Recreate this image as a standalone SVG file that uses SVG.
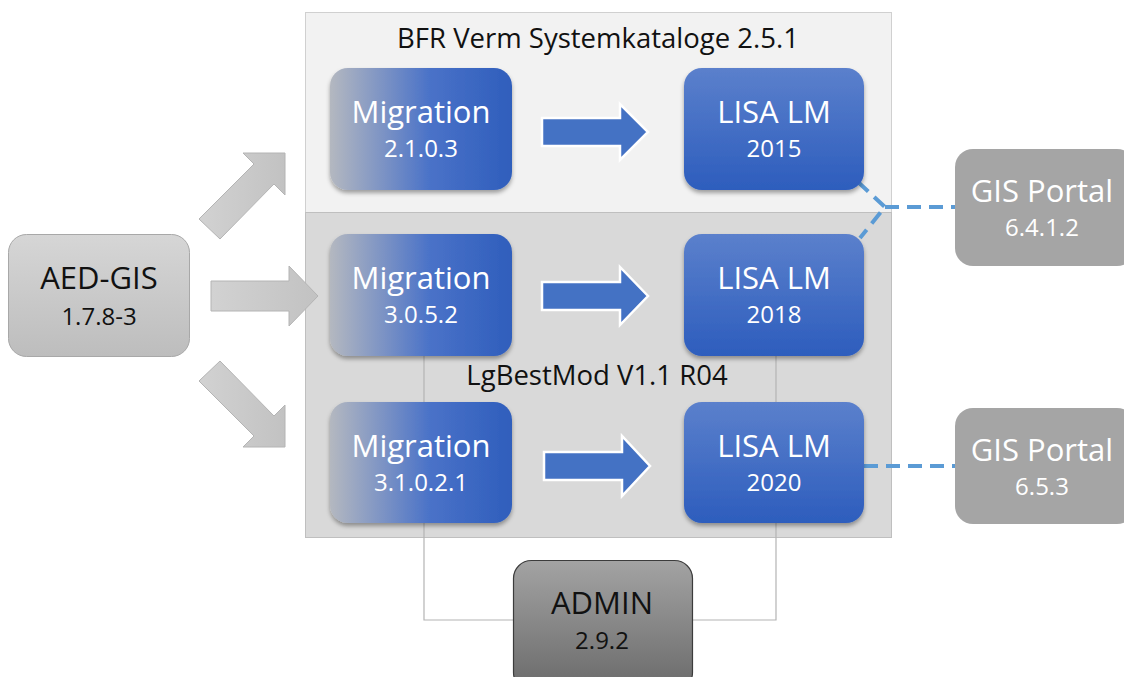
<svg xmlns="http://www.w3.org/2000/svg" width="1124" height="677" viewBox="0 0 1124 677">
<defs>
<style>
text{font-family:"Open Sans","Liberation Sans",sans-serif;text-anchor:middle}
.t1{font-size:31px;fill:#fff}
.t2{font-size:24px;fill:#fff}
.d1{font-size:31px;fill:#111}
.d2{font-size:24px;fill:#111}
.lbl{font-size:27.5px;fill:#111}
.mig{fill:url(#gMig);filter:url(#sh)}
.lisa{fill:url(#gLisa);filter:url(#sh)}
.barrow{fill:#4472c4;stroke:#fff;stroke-width:2.5}
.garrow{fill:url(#gGray);stroke:#b4b4b4;stroke-width:1}
.dash{fill:none;stroke:#5b9bd5;stroke-width:4;stroke-dasharray:14 8}
.thin{fill:none;stroke:#b4b4b4;stroke-width:1.2}
</style>
<linearGradient id="gMig" x1="0" y1="0" x2="1" y2="0">
<stop offset="0" stop-color="#b4b8c0"/>
<stop offset="0.55" stop-color="#4a72c8"/>
<stop offset="1" stop-color="#2f5ebc"/>
</linearGradient>
<linearGradient id="gLisa" x1="0" y1="0" x2="0" y2="1">
<stop offset="0" stop-color="#5b80cc"/>
<stop offset="1" stop-color="#2d5dbd"/>
</linearGradient>
<linearGradient id="gGray" x1="0" y1="0" x2="1" y2="0">
<stop offset="0" stop-color="#d2d2d2"/>
<stop offset="1" stop-color="#c2c2c2"/>
</linearGradient>
<linearGradient id="gAed" x1="0" y1="0" x2="0" y2="1">
<stop offset="0" stop-color="#d6d6d6"/>
<stop offset="1" stop-color="#bdbdbd"/>
</linearGradient>
<linearGradient id="gAdmin" x1="0" y1="0" x2="0" y2="1">
<stop offset="0" stop-color="#a3a3a3"/>
<stop offset="1" stop-color="#6a6a6a"/>
</linearGradient>
<filter id="sh" x="-10%" y="-10%" width="120%" height="130%">
<feDropShadow dx="0" dy="3" stdDeviation="2" flood-color="#000" flood-opacity="0.35"/>
</filter>
</defs>
<rect width="1124" height="677" fill="#fff"/>

<g id="container-bfr">
<rect x="305.5" y="12.5" width="586" height="200" fill="#f2f2f2" stroke="#d0d0d0"/>
<text class="lbl" x="598" y="48">BFR Verm Systemkataloge 2.5.1</text>
</g>
<g id="container-lgbestmod">
<rect x="305.5" y="212.5" width="586" height="325" fill="#d9d9d9" stroke="#bfbfbf"/>
</g>

<g id="connectors">
<path class="thin" d="M424 356V620H513M776 356V620H692"/>
<polygon class="garrow" points="199,219 254,164 243,153 285,153 285,195 274,184 220,239"/>
<polygon class="garrow" points="211,281 289,281 289,266 318,296 289,326 289,311 211,311"/>
<polygon class="garrow" points="199,381 254,436 243,447 285,447 285,405 274,416 220,361"/>
<polygon class="barrow" points="542,118 620,118 620,104 648,132 620,160 620,146 542,146"/>
<polygon class="barrow" points="542,282 620,282 620,267 648,296 620,325 620,310 542,310"/>
<polygon class="barrow" points="544,452 622,452 622,436 650,466 622,496 622,480 544,480"/>
<path class="dash" d="M858 182L885 207L860 238M885 207H955"/>
<path class="dash" d="M864 466H955"/>
</g>

<g id="label-lgbestmod">
<text class="lbl" x="597" y="385">LgBestMod V1.1 R04</text>
</g>

<g id="aed-gis">
<rect x="8.5" y="234.5" width="181" height="122" rx="18" fill="url(#gAed)" stroke="#a8a8a8"/>
<text class="d1" x="99" y="289">AED-GIS</text>
<text class="d2" x="99" y="325">1.7.8-3</text>
</g>

<g id="migration-2103">
<rect class="mig" x="330" y="68" width="182" height="122" rx="18"/>
<text class="t1" x="421" y="123">Migration</text>
<text class="t2" x="421" y="157">2.1.0.3</text>
</g>
<g id="lisa-2015">
<rect class="lisa" x="684" y="68" width="180" height="122" rx="18"/>
<text class="t1" x="774" y="123">LISA LM</text>
<text class="t2" x="774" y="157">2015</text>
</g>
<g id="migration-3052">
<rect class="mig" x="330" y="234" width="182" height="122" rx="18"/>
<text class="t1" x="421" y="289">Migration</text>
<text class="t2" x="421" y="323">3.0.5.2</text>
</g>
<g id="lisa-2018">
<rect class="lisa" x="684" y="234" width="180" height="122" rx="18"/>
<text class="t1" x="774" y="289">LISA LM</text>
<text class="t2" x="774" y="323">2018</text>
</g>
<g id="migration-31021">
<rect class="mig" x="330" y="402" width="182" height="121" rx="18"/>
<text class="t1" x="421" y="457">Migration</text>
<text class="t2" x="421" y="491">3.1.0.2.1</text>
</g>
<g id="lisa-2020">
<rect class="lisa" x="684" y="402" width="180" height="121" rx="18"/>
<text class="t1" x="774" y="457">LISA LM</text>
<text class="t2" x="774" y="491">2020</text>
</g>

<g id="gis-portal-6412">
<rect x="955" y="149" width="180" height="117" rx="18" fill="#a5a5a5"/>
<text class="t1" x="1042" y="202">GIS Portal</text>
<text class="t2" x="1042" y="236">6.4.1.2</text>
</g>
<g id="gis-portal-653">
<rect x="955" y="408" width="180" height="116" rx="18" fill="#a5a5a5"/>
<text class="t1" x="1042" y="461">GIS Portal</text>
<text class="t2" x="1042" y="495">6.5.3</text>
</g>

<g id="admin">
<rect x="513.5" y="560.5" width="179" height="130" rx="18" fill="url(#gAdmin)" stroke="#3c3c3c" stroke-width="1.2"/>
<text class="d1" x="602" y="614">ADMIN</text>
<text class="d2" x="602" y="649">2.9.2</text>
</g>
</svg>
